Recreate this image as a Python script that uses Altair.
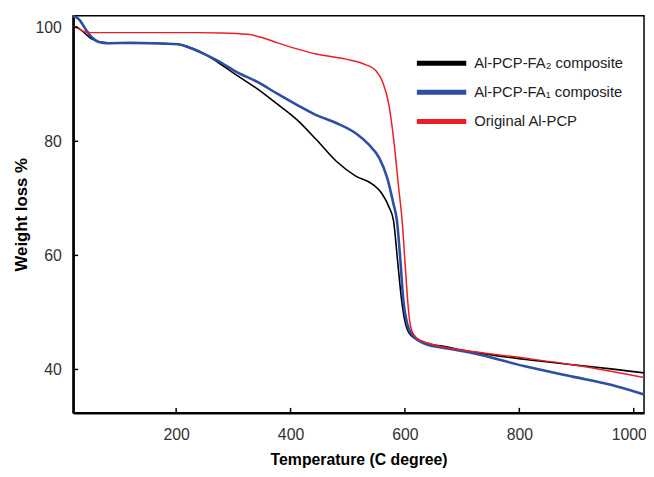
import altair as alt
import pandas as pd

# ---- data ----
series_names = ["Al-PCP-FA₂ composite", "Al-PCP-FA₁ composite", "Original Al-PCP"]
series_colors = ["#000000", "#2d4fa3", "#ee1d25"]
series_widths = [1.6, 2.6, 1.5]

temp_fa2 = [20, 30, 42, 53, 60, 70, 90, 130, 170, 203, 226, 238, 273, 307, 342, 376, 411, 445, 480,
            514, 543, 560, 572, 580, 587, 594, 601, 611, 635, 670, 722, 808, 895, 960, 1018]
wt_fa2 = [100.2, 99.8, 98.8, 97.9, 97.6, 97.35, 97.25, 97.25, 97.15, 97.0, 96.4, 95.9, 93.85, 91.5, 89.2,
          86.6, 83.8, 80.3, 76.5, 73.9, 72.5, 70.8, 68.5, 66.1, 59.2, 52.3, 48.0, 45.9, 44.7, 44.0,
          43.0, 41.8, 40.8, 40.1, 39.4]

temp_fa1 = [20, 30, 42, 53, 65, 80, 120, 160, 203, 226, 238, 273, 307, 342, 376, 411, 445, 480, 514,
            537, 555, 569, 580, 586, 592, 597, 604, 614, 635, 680, 722, 808, 895, 960, 1018]
wt_fa1 = [101.9, 101.4, 99.6, 98.2, 97.4, 97.2, 97.25, 97.2, 97.0, 96.3, 95.8, 94.1, 92.1, 90.4, 88.4,
          86.4, 84.6, 83.2, 81.4, 79.4, 77.1, 73.6, 69.0, 66.1, 59.2, 52.3, 48.0, 45.9, 44.5, 43.6,
          42.8, 40.6, 38.7, 37.3, 35.6]

temp_orig = [20, 30, 40, 50, 100, 200, 238, 280, 325, 350, 376, 411, 445, 497, 532, 549, 561, 572,
             580, 589, 595, 601, 606, 611, 622, 644, 722, 808, 895, 960, 1018]
wt_orig = [100.2, 99.7, 99.2, 99.05, 99.05, 99.05, 99.05, 99.0, 98.75, 98.2, 97.3, 96.2, 95.3, 94.4,
           93.4, 92.4, 90.4, 86.4, 80.6, 71.9, 66.2, 57.5, 50.6, 47.1, 45.4, 44.5, 43.1, 42.0, 40.8,
           39.7, 38.6]

x_ticks = [200, 400, 600, 800, 1000]
y_ticks = [40, 60, 80, 100]

rows = []
for name, ts, ws in [(series_names[0], temp_fa2, wt_fa2),
                     (series_names[1], temp_fa1, wt_fa1),
                     (series_names[2], temp_orig, wt_orig)]:
    for i, (t, w) in enumerate(zip(ts, ws)):
        rows.append({"series": name, "T": t, "W": w, "order": i})
df = pd.DataFrame(rows)

W, H = 578, 402
FONT = "Liberation Sans"
x_scale = alt.Scale(domain=[20, 1018], nice=False, zero=False)
y_scale = alt.Scale(domain=[32.4, 102], nice=False, zero=False)

base = alt.Chart(df).encode(
    x=alt.X("T:Q", scale=x_scale,
            axis=alt.Axis(title="Temperature (C degree)", values=x_ticks, format="d", ticks=False,
                          grid=False, domainWidth=2.5, domainColor="black", labelFontSize=16,
                          labelColor="#333333", labelPadding=14, titleFontSize=16, titleFontWeight="bold",
                          titleColor="black", titlePadding=9, labelFont=FONT, titleFont=FONT,
                          labelFlush=False, labelOverlap=False,
                          labelOffset={"expr": "datum.value == 1000 ? -5 : 0"})),
    y=alt.Y("W:Q", scale=y_scale,
            axis=alt.Axis(title="Weight loss %", values=y_ticks, ticks=False, grid=False,
                          domainWidth=2.5, domainColor="black", labelFontSize=16, labelColor="#333333",
                          labelPadding=12, titleFontSize=17, titleFontWeight="bold", titleColor="black",
                          titlePadding=5, labelFont=FONT, titleFont=FONT)),
    color=alt.Color("series:N", scale=alt.Scale(domain=series_names, range=series_colors),
                    legend=alt.Legend(title=None, orient="none", legendX=358, legendY=33,
                                      symbolType="M-2,0H2", symbolSize=625, symbolStrokeWidth=5,
                                      labelFontSize=15, labelFont=FONT, labelColor="#222222",
                                      labelOffset=18, rowPadding=4.5, padding=0)),
    order="order:Q",
)

line_layers = [
    base.transform_filter(alt.datum.series == name).mark_line(interpolate="monotone", strokeWidth=sw)
    for name, sw in zip(series_names, series_widths)
]

tick_x = alt.Chart(pd.DataFrame({"T": x_ticks})).mark_rule(color="black", strokeWidth=1.5).encode(
    x=alt.X("T:Q", scale=x_scale), y=alt.value(H), y2=alt.value(H - 5))
tick_y = alt.Chart(pd.DataFrame({"W": y_ticks})).mark_rule(color="black", strokeWidth=1.5).encode(
    y=alt.Y("W:Q", scale=y_scale), x=alt.value(0), x2=alt.value(5))

chart = alt.layer(*line_layers, tick_x, tick_y).properties(
    width=W, height=H,
    autosize=alt.AutoSizeParams(type="none"),
    padding={"left": 66, "top": 5, "right": 2, "bottom": 54},
).configure_view(stroke="black", strokeWidth=1.5)

chart.save("out.html", embed_options={"renderer": "svg", "actions": False})
